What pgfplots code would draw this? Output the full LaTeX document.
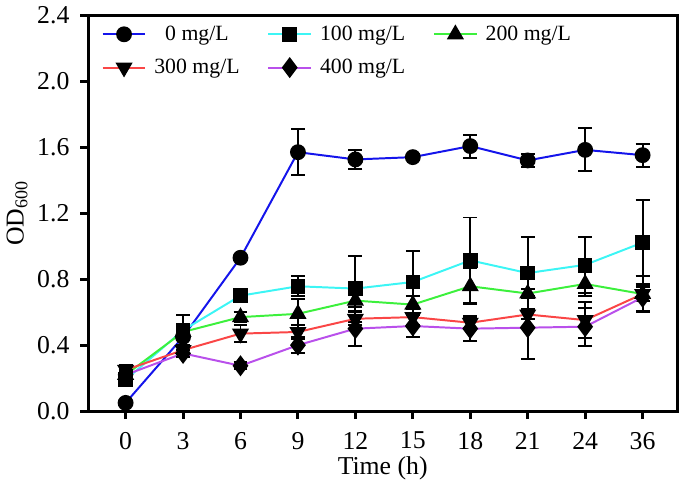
\documentclass[border=0pt]{standalone}
\usepackage{pgfplots}
\pgfplotsset{compat=1.18}
\usepackage{pgfplotstable}
\usepackage{fontspec}
\setmainfont{Liberation Serif}
\definecolor{c0}{RGB}{20,20,235}
\definecolor{c100}{RGB}{60,245,245}
\definecolor{c200}{RGB}{60,240,60}
\definecolor{c300}{RGB}{250,70,70}
\definecolor{c400}{RGB}{185,80,235}
\pgfplotstableread{
x y0 e0 y1 e1 y2 e2 y3 e3 y4 e4
0 0.05 0.01 0.19 0.03 0.22 0.03 0.25 0.03 0.22 0.02
1 0.45 0.02 0.49 0.09 0.48 0.03 0.37 0.03 0.35 0.02
2 0.93 0.02 0.70 0.02 0.57 0.03 0.47 0.05 0.275 0.02
3 1.57 0.14 0.757 0.06 0.59 0.09 0.48 0.04 0.40 0.05
4 1.526 0.055 0.743 0.20 0.67 0.04 0.56 0.04 0.50 0.105
5 1.54 0.02 0.783 0.185 0.646 0.05 0.57 0.05 0.516 0.065
6 1.607 0.07 0.914 0.26 0.757 0.11 0.536 0.03 0.50 0.075
7 1.52 0.04 0.837 0.22 0.713 0.03 0.586 0.03 0.506 0.19
8 1.584 0.13 0.887 0.17 0.771 0.07 0.552 0.11 0.512 0.115
9 1.552 0.07 1.022 0.257 0.71 0.11 0.71 0.04 0.69 0.08
}\data
\begin{document}
\begin{tikzpicture}
\begin{axis}[
  scale only axis,
  width=297.5pt, height=200pt,
  xmin=-0.65, xmax=9.6,
  ymin=0, ymax=2.4,
  xtick={0,...,9},
  xticklabels={0,3,6,9,12,15,18,21,24,36},
  ytick={0,0.4,...,2.4},
  yticklabel style={xshift=-2pt, /pgf/number format/.cd, fixed, fixed zerofill, precision=1},
  /pgf/number format/assume math mode=true,
  tick label style={font=\fontsize{13}{15}\selectfont},
  xticklabel style={yshift=-3pt},
  label style={font=\fontsize{13}{15}\selectfont},
  xlabel={Time (h)},
  ylabel={OD\textsubscript{600}},
  xlabel style={yshift=3pt},
  ylabel style={yshift=-2pt},
  axis line style={line width=1.5pt},
  tick align=outside,
  xtick pos=left, ytick pos=left,
  major tick length=4pt,
  tick style={line width=1.5pt, black},
  legend columns=3,
  legend style={draw=none, fill=none, at={(0.012,0.995)}, anchor=north west,
    font=\fontsize{11}{13}\selectfont, row sep=4pt,
    /tikz/every odd column/.append style={column sep=2pt},
    /tikz/every even column/.append style={column sep=12pt}},
  legend image code/.code={
    \draw[#1, mark repeat=2, mark phase=2] plot coordinates {(0cm,0cm) (0.38cm,0cm) (0.76cm,0cm)};},
  error bars/y dir=both, error bars/y explicit,
  error bars/error bar style={black, line width=1pt},
  error bars/error mark options={black, rotate=90, mark size=3.5pt, line width=1pt},
]
\addplot[c0, line width=1pt, mark=*, mark size=3.5pt, mark options={black, fill=black}]
  table[x=x, y=y0, y error=e0]{\data};
\addlegendentry{0 mg/L}
\addplot[c100, line width=1pt, mark=square*, mark size=3.2pt, mark options={black, fill=black}]
  table[x=x, y=y1, y error=e1]{\data};
\addlegendentry{100 mg/L}
\addplot[c200, line width=1pt, mark=triangle*, mark size=4pt, mark options={black, fill=black}]
  table[x=x, y=y2, y error=e2]{\data};
\addlegendentry{200 mg/L}
\addplot[c300, line width=1pt, mark=triangle*, mark size=4pt, mark options={black, fill=black, rotate=180}]
  table[x=x, y=y3, y error=e3]{\data};
\addlegendentry{300 mg/L}
\addplot[c400, line width=1pt, mark=diamond*, mark size=4.5pt, mark options={black, fill=black}]
  table[x=x, y=y4, y error=e4]{\data};
\addlegendentry{400 mg/L}
\end{axis}
\path ([xshift=3pt]current axis.north east);
\end{tikzpicture}
\end{document}
